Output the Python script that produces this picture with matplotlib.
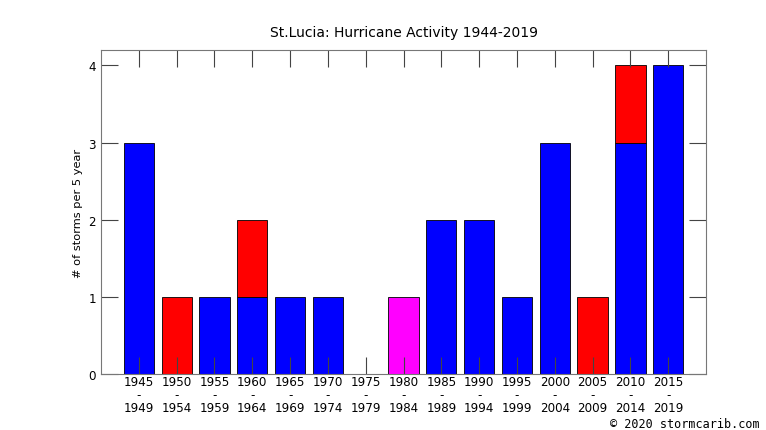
import numpy as np
import matplotlib
matplotlib.use('Agg')
import matplotlib.pyplot as plt

# 5-year periods and storm counts per colour
starts = [1945, 1950, 1955, 1960, 1965, 1970, 1975, 1980, 1985, 1990, 1995, 2000, 2005, 2010, 2015]
ends = [1949, 1954, 1959, 1964, 1969, 1974, 1979, 1984, 1989, 1994, 1999, 2004, 2009, 2014, 2019]
blue_counts = [3, 0, 1, 1, 1, 1, 0, 0, 2, 2, 1, 3, 0, 3, 4]
red_counts = [0, 1, 0, 1, 0, 0, 0, 0, 0, 0, 0, 0, 1, 1, 0]
magenta_counts = [0, 0, 0, 0, 0, 0, 0, 1, 0, 0, 0, 0, 0, 0, 0]

labels = ["{}\n-\n{}".format(s, e) for s, e in zip(starts, ends)]
x = np.arange(len(starts))
blue = np.array(blue_counts)
red = np.array(red_counts)
mag = np.array(magenta_counts)

fig = plt.figure(figsize=(7.66, 4.31), dpi=100)
ax = fig.add_axes([0.1319, 0.1299, 0.7898, 0.7518])

w = 0.8
ax.bar(x, blue, w, color='#0000ff', edgecolor='black', linewidth=0.6)
ax.bar(x, red, w, bottom=blue, color='#ff0000', edgecolor='black', linewidth=0.6)
ax.bar(x, mag, w, bottom=blue + red, color='#ff00ff', edgecolor='black', linewidth=0.6)
# hide outlines of empty bars
for p in ax.patches:
    if p.get_height() == 0:
        p.set_visible(False)

ax.set_xlim(-1, len(starts))
ax.set_ylim(0, 4.2)
ax.set_xticks(x)
ax.set_xticklabels(labels, fontsize=8.6, linespacing=0.97)
ax.set_yticks([0, 1, 2, 3, 4])
ax.tick_params(axis='both', direction='in', length=12, width=0.8, color='#444444',
               top=True, right=True, labelsize=8.6)
ax.tick_params(axis='x', pad=1)
for s in ax.spines.values():
    s.set_color('#777777')
    s.set_linewidth(0.8)

ax.set_ylabel('# of storms per 5 year', fontsize=8.2)
ax.set_title('St.Lucia: Hurricane Activity 1944-2019', fontsize=10, pad=10)
fig.text(0.992, 0.014, '\u00a9 2020 stormcarib.com', family='DejaVu Sans Mono',
         fontsize=8.5, ha='right', va='center')

fig.savefig('out.png', dpi=100)
